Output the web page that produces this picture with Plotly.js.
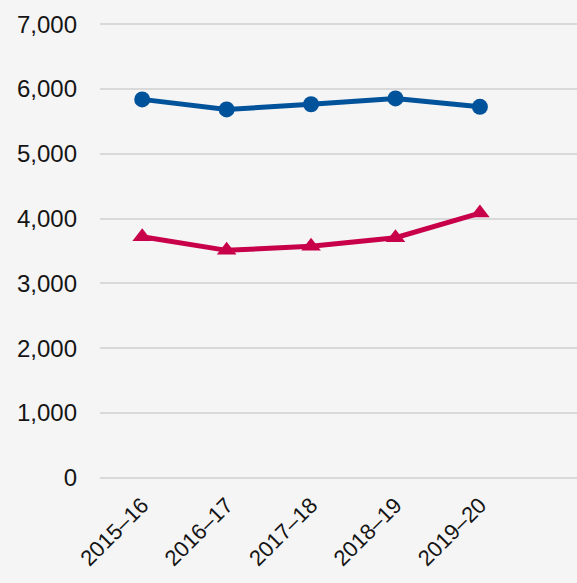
<!DOCTYPE html>
<html>
<head>
<meta charset="utf-8">
<script src="https://cdn.plot.ly/plotly-3.0.1.min.js"></script>
<style>html,body{margin:0;padding:0;background:#f5f5f5;}#chart{width:577px;height:583px;}</style>
</head>
<body>
<div id="chart"></div>
<script>
const categories = ["2015–16", "2016–17", "2017–18", "2018–19", "2019–20"];
const seriesBlue = [5840, 5685, 5765, 5855, 5725];
const seriesRed = [3720, 3510, 3575, 3705, 4085];
const yTickVals = [0, 1000, 2000, 3000, 4000, 5000, 6000, 7000];
const yTickText = ["0", "1,000", "2,000", "3,000", "4,000", "5,000", "6,000", "7,000"];

const traces = [
  {
    x: categories, y: seriesBlue, type: "scatter", mode: "lines+markers",
    line: {color: "#00529b", width: 5},
    marker: {symbol: "circle", size: 16, color: "#00529b"},
    cliponaxis: false, hoverinfo: "skip"
  },
  {
    x: categories, y: seriesRed, type: "scatter", mode: "lines+markers",
    line: {color: "#c8004a", width: 5},
    marker: {symbol: "triangle-up", size: 17, color: "#c8004a"},
    cliponaxis: false, hoverinfo: "skip"
  }
];

const layout = {
  width: 577, height: 583,
  paper_bgcolor: "#f5f5f5", plot_bgcolor: "#f5f5f5",
  margin: {l: 100, r: 0, t: 21, b: 102},
  showlegend: false,
  font: {family: "Liberation Sans, Arial, sans-serif", size: 24, color: "#151515"},
  xaxis: {
    type: "category", range: [-0.5, 5.15],
    showgrid: false, zeroline: false, showline: false, ticks: "",
    tickangle: -45, tickfont: {size: 22}, ticklabelstandoff: 6
  },
  yaxis: {
    range: [-50, 7050], tickvals: yTickVals, ticktext: yTickText,
    showgrid: true, gridcolor: "#d9d9d9", gridwidth: 2,
    zeroline: false, showline: false, ticks: "", ticklabelstandoff: 22,
    tickfont: {size: 24}
  }
};

Plotly.newPlot("chart", traces, layout, {displayModeBar: false, staticPlot: true});
</script>
</body>
</html>
